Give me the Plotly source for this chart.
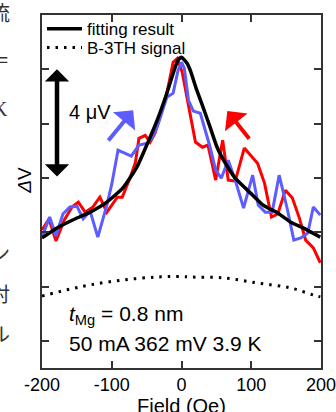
import plotly.graph_objects as go

# ---- data (y in µV, arbitrary offset) ----
field_blue = [-200, -189, -180, -170, -160, -150, -141, -131, -120, -107, -100, -91, -72, -61, -49, -42, -35,
              -21, -12, -5, 0, 4, 10, 17, 27, 34, 41, 49, 57, 67, 77, 89, 102, 110, 120, 130, 140, 152, 161,
              171, 181, 189, 199]
dv_blue = [3.82, 4.56, 3.86, 4.67, 4.93, 4.96, 4.49, 4.78, 3.82, 5.0, 5.77, 7.02, 6.80, 7.21, 7.28, 7.5, 7.87,
           8.97, 9.12, 9.96, 10.26, 10.04, 8.86, 8.46, 8.38, 7.76, 7.13, 6.29, 5.99, 6.65, 5.92, 4.89, 6.10, 5.0,
           4.74, 4.74, 6.10, 4.82, 3.71, 3.79, 3.97, 4.93, 4.63]

field_red = [-200, -190, -180, -168, -157, -148, -138, -127, -117, -107, -92, -85, -74, -66, -61, -52, -45, -38,
             -31, -21, -12, -6, 1, 10, 20, 30, 38, 49, 59, 67, 77, 90, 109, 119, 129, 138, 149, 159, 169, 178,
             189, 199]
dv_red = [4.08, 4.49, 3.68, 4.45, 4.93, 5.11, 4.74, 4.93, 5.29, 4.74, 5.29, 5.29, 5.99, 6.58, 7.46, 7.57, 7.32,
          7.65, 8.24, 9.12, 10.26, 10.40, 9.89, 8.64, 7.32, 7.13, 7.21, 5.92, 7.39, 5.92, 5.88, 7.10, 6.54, 5.81,
          4.56, 4.67, 5.55, 5.26, 4.52, 3.71, 3.42, 2.87]

field_fit = [-200, -179, -156, -131, -107, -84, -64, -48, -35, -21, -12, -5, 0, 8, 13, 21, 31, 41, 51, 63, 77,
             99, 117, 138, 156, 175, 199]
dv_fit = [3.79, 4.15, 4.45, 4.74, 5.11, 5.63, 6.40, 7.32, 8.12, 9.12, 9.85, 10.33, 10.44, 10.22, 9.93, 9.30,
          8.60, 7.87, 7.13, 6.54, 5.99, 5.44, 5.0, 4.71, 4.38, 4.15, 3.82]

field_b3th = [-200, -164, -131, -84, -35, 0, 13, 60, 109, 156, 189, 199]
dv_b3th = [1.65, 1.88, 2.06, 2.24, 2.35, 2.37, 2.35, 2.32, 2.13, 1.95, 1.69, 1.62]

x_ticks = [-200, -100, 0, 100, 200]
x_tick_labels = ["-200", "-100", "0", "100", "200"]
y_ticks = [0, 2, 4, 6, 8, 10, 12]

# scale bar (4 µV) and sweep arrows
scale_bar_x = -178.5
scale_bar_y = [6.0, 10.0]
blue_arrow = dict(x0=-106.6, y0=7.32, x1=-69.3, y1=8.49)
red_arrow = dict(x0=98.8, y0=7.39, x1=65.7, y1=8.46)

SANS = "Liberation Sans, Arial, sans-serif"
BLUE = "#5c5cff"
RED = "#ff0000"

fig = go.Figure()
fig.add_trace(go.Scatter(x=field_red, y=dv_red, mode="lines",
                         line=dict(color=RED, width=3), showlegend=False))
fig.add_trace(go.Scatter(x=field_blue, y=dv_blue, mode="lines",
                         line=dict(color=BLUE, width=3), showlegend=False))
fig.add_trace(go.Scatter(x=field_fit, y=dv_fit, mode="lines", name="fitting result", legend="legend",
                         line=dict(color="black", width=3.5, shape="spline", smoothing=0.5)))
fig.add_trace(go.Scatter(x=field_b3th, y=dv_b3th, mode="lines", name="B-3TH signal", legend="legend2",
                         line=dict(color="black", width=3, dash="2.5px,6px", shape="spline")))

ann = []
# double-headed scale bar
ann.append(dict(x=scale_bar_x, y=scale_bar_y[1], ax=scale_bar_x, ay=scale_bar_y[0], xref="x", yref="y",
                axref="x", ayref="y", text="", showarrow=True, arrowside="end+start",
                arrowhead=1, startarrowhead=1, arrowsize=0.9, startarrowsize=0.9,
                arrowwidth=4.5, arrowcolor="black", standoff=0, startstandoff=0))
ann.append(dict(x=-164, y=8.42, xref="x", yref="y", text="4 μV", showarrow=False,
                xanchor="left", yanchor="middle", font=dict(family=SANS, size=20, color="black")))
for arr, col in ((blue_arrow, BLUE), (red_arrow, RED)):
    ann.append(dict(x=arr["x1"], y=arr["y1"], ax=arr["x0"], ay=arr["y0"], xref="x", yref="y",
                    axref="x", ayref="y", text="", showarrow=True, arrowhead=1, arrowsize=1.2,
                    arrowwidth=4, arrowcolor=col, standoff=0))
ann.append(dict(x=-164, y=0.95, xref="x", yref="y", text="<i>t</i><sub>Mg</sub> = 0.8 nm",
                showarrow=False, xanchor="left", yanchor="middle",
                font=dict(family=SANS, size=21, color="black")))
ann.append(dict(x=-164, y=-0.11, xref="x", yref="y", text="50 mA 362 mV 3.9 K",
                showarrow=False, xanchor="left", yanchor="middle",
                font=dict(family=SANS, size=21, color="black")))
# axis titles
ann.append(dict(x=0.5, y=-0.108, xref="paper", yref="paper", text="Field (Oe)", showarrow=False,
                xanchor="center", yanchor="middle", font=dict(family=SANS, size=20, color="black")))
ann.append(dict(x=-0.061, y=0.533, xref="paper", yref="paper", text="<i>Δ</i>V", showarrow=False,
                textangle=-90, xanchor="center", yanchor="middle",
                font=dict(family=SANS, size=19, color="black")))

# fragments of the surrounding page text, cut by the left edge
frags = [("流", 1.008, "Noto Sans CJK JP"), ("＝", 0.873, "Noto Sans CJK JP"),
         ("K", 0.734, "Liberation Serif"), ("ン", 0.326, "Noto Sans CJK JP"),
         ("対", 0.212, "Noto Sans CJK JP"), ("ル", 0.099, "Noto Sans CJK JP")]
for ch, yy, fam in frags:
    ann.append(dict(x=-0.1505, y=yy, xref="paper", yref="paper", text=ch, showarrow=False,
                    xanchor="center", yanchor="middle", font=dict(family=fam, size=20, color="#333")))

axis_common = dict(showline=True, linewidth=1.5, linecolor="#333", mirror="allticks",
                   ticks="inside", ticklen=7, tickwidth=1.5, tickcolor="#333",
                   showgrid=False, zeroline=False, automargin=False)

legend_common = dict(xanchor="left", yanchor="middle", bgcolor="rgba(0,0,0,0)",
                     font=dict(family=SANS, size=17, color="black"), itemwidth=35,
                     borderwidth=0)

fig.update_layout(
    width=336, height=412, autosize=False,
    margin=dict(l=42, r=15, t=15, b=44, autoexpand=False),
    paper_bgcolor="white", plot_bgcolor="white",
    font=dict(family=SANS, size=18, color="black"),
    xaxis=dict(range=[-200, 200], tickvals=x_ticks, ticktext=x_tick_labels, ticklabeloverflow="allow",
               tickfont=dict(family=SANS, size=18, color="black"), **axis_common),
    yaxis=dict(range=[-1, 12], tickvals=y_ticks, showticklabels=False, **axis_common),
    legend=dict(x=0, y=0.960, **legend_common),
    legend2=dict(x=0, y=0.907, **legend_common),
    annotations=ann,
    showlegend=True,
)

fig.write_html(
    "out.html",
    config={"responsive": False, "displayModeBar": False},
    post_script="document.body.style.margin='0px';document.body.style.overflow='hidden';",
)
